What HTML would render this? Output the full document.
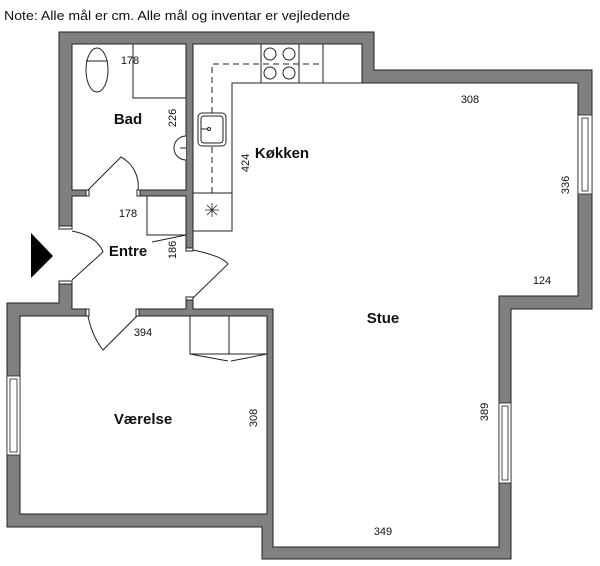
<!DOCTYPE html>
<html><head><meta charset="utf-8"><style>
html,body{margin:0;padding:0;background:#fff;width:600px;height:566px;overflow:hidden}
svg{display:block}
text{font-family:"Liberation Sans",sans-serif;fill:#111}
.n{font-size:11px}
.b{font-size:15px;font-weight:bold}
</style></head><body>
<svg width="600" height="566" viewBox="0 0 600 566">
<text x="4" y="20" font-size="13" textLength="346" lengthAdjust="spacingAndGlyphs">Note: Alle mål er cm. Alle mål og inventar er vejledende</text>
<!-- outer walls -->
<polygon points="59,32 374,32 374,70 592,70 592,309 511,309 511,559 262,559 262,527 7,527 7,303 59,303" fill="#808080" stroke="#222" stroke-width="1"/>
<!-- rooms -->
<g fill="#fff" stroke="#222" stroke-width="1">
<rect x="72" y="44" width="114" height="146"/>
<polygon points="193,44 362,44 362,83 578,83 578,296 499,296 499,547 273,547 273,309 193,309"/>
<rect x="72" y="196" width="114" height="113"/>
<rect x="20" y="316" width="247" height="198"/>
</g>
<!-- openings -->
<g fill="#fff" stroke="none">
<rect x="89" y="189" width="48" height="8"/>
<rect x="58.5" y="229" width="14" height="53"/>
<rect x="185" y="251" width="9" height="46"/>
<rect x="89" y="308" width="47" height="9"/>
<rect x="72.5" y="196.5" width="113" height="112"/>
<rect x="193.5" y="84" width="300" height="224"/>
</g>
<!-- jambs -->
<g fill="#fff" stroke="#222" stroke-width="1">
<rect x="86" y="190" width="3" height="6"/><rect x="137" y="190" width="3" height="6"/>
<rect x="59" y="226" width="13" height="3"/><rect x="59" y="281" width="13" height="3"/>
<rect x="186" y="248" width="7" height="3"/><rect x="186" y="297" width="7" height="3"/>
<rect x="86" y="309" width="3" height="7"/><rect x="136" y="309" width="3" height="7"/>
</g>
<!-- windows -->
<g fill="#fff" stroke="#222" stroke-width="0.8">
<rect x="578" y="115" width="14" height="79"/><rect x="582" y="118" width="6" height="73"/>
<rect x="499" y="403" width="12" height="80"/><rect x="502" y="406" width="6" height="74"/>
<rect x="7" y="376" width="13" height="79"/><rect x="10" y="379" width="7" height="73"/>
</g>
<!-- kitchen -->
<g fill="none" stroke="#222" stroke-width="1">
<polygon points="193,44 362,44 362,83 232,83 232,231 193,231" fill="#fff"/>
<line x1="193" y1="193" x2="232" y2="193"/>
<line x1="261" y1="44" x2="261" y2="83"/><line x1="299" y1="44" x2="299" y2="83"/><line x1="323" y1="44" x2="323" y2="83"/>
<circle cx="270" cy="54" r="6"/><circle cx="289" cy="54" r="6"/><circle cx="270" cy="73" r="6"/><circle cx="289" cy="73" r="6"/>
<path d="M212,193 V64 H323" stroke-dasharray="6,4"/>
<rect x="198" y="113" width="28" height="33" rx="4" fill="#fff"/>
<rect x="201" y="116" width="22" height="27" rx="3"/>
<circle cx="209" cy="129" r="1.5"/><line x1="201" y1="129" x2="208" y2="129"/>
<path d="M205,210 H219 M212,203 V217 M207,205 L217,215 M217,205 L207,215" stroke-width="0.8"/>
<!-- bad -->
<ellipse cx="97" cy="70" rx="11" ry="22" fill="#fff"/>
<line x1="86" y1="61" x2="108" y2="61"/>
<path d="M133,44 V98 H186"/>
<path d="M186,136 A12,12 0 0 0 186,160" fill="#fff"/>
<path d="M180,148 H186" />
<!-- doors -->
<path d="M88,190 L121,157 A33,33 0 0 1 138,190"/>
<path d="M72,231 Q97,236 103,252 L72,280"/>
<path d="M193,250 Q222,256 228,264 L193,298"/>
<path d="M137,316 L103,350 Q92,336 88,316"/>
<!-- entre box -->
<path d="M147,196 V235 H186 M152,242 L186,235"/>
<!-- wardrobe -->
<path d="M190,316 V354 H267 M229,316 V354 M190,354 L228,361 M231,361 L267,354"/>
</g>
<polygon points="31,233 31,278 53,256" fill="#000"/>
<!-- labels -->
<text class="b" x="128" y="124" text-anchor="middle">Bad</text>
<text class="b" x="282" y="158" text-anchor="middle">Køkken</text>
<text class="b" x="128" y="256" text-anchor="middle">Entre</text>
<text class="b" x="383" y="323" text-anchor="middle">Stue</text>
<text class="b" x="143" y="424" text-anchor="middle">Værelse</text>
<g class="n">
<text x="130" y="64" text-anchor="middle" class="n">178</text>
<text x="128" y="217" text-anchor="middle" class="n">178</text>
<text x="470" y="103" text-anchor="middle" class="n">308</text>
<text x="542" y="284" text-anchor="middle" class="n">124</text>
<text x="143" y="336" text-anchor="middle" class="n">394</text>
<text x="383" y="535" text-anchor="middle" class="n">349</text>
<text class="n" text-anchor="middle" transform="translate(176,118) rotate(-90)">226</text>
<text class="n" text-anchor="middle" transform="translate(249,163) rotate(-90)">424</text>
<text class="n" text-anchor="middle" transform="translate(569,185) rotate(-90)">336</text>
<text class="n" text-anchor="middle" transform="translate(176,250) rotate(-90)">186</text>
<text class="n" text-anchor="middle" transform="translate(257,418) rotate(-90)">308</text>
<text class="n" text-anchor="middle" transform="translate(488,412) rotate(-90)">389</text>
</g>
</svg>
</body></html>
